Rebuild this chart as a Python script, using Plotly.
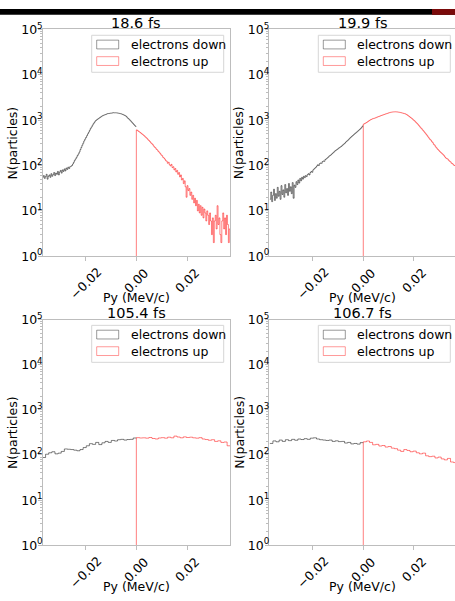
import numpy as np
import plotly.graph_objects as go

W, H = 455, 601

# ---------------- data ----------------
TITLES = ["18.6 fs", "19.9 fs", "105.4 fs", "106.7 fs"]
SERIES_NAMES = ["electrons down", "electrons up"]
X_TITLE = "Py (MeV/c)"
Y_TITLE = "N(particles)"
X_TICKS = [-0.02, 0.0, 0.02]
X_TICK_LABELS = ["\u22120.02", "0.00", "0.02"]
Y_TICKS = [1, 10, 100, 1000, 10000, 100000]
Y_TICK_LABELS = ["10<sup>%d</sup>" % k for k in range(6)]
PY_MIN, PY_MAX = -0.037, 0.037

# counts per bin, negative half (down) and positive half (up); bins split each half evenly
down_186 = [55, 60, 52, 57, 64, 50, 58, 62, 55, 66,
            58, 63, 70, 60, 68, 64, 74, 62, 72, 78,
            68, 80, 74, 84, 76, 88, 82, 92, 86, 94,
            96, 100, 108, 118, 130, 140, 152, 166, 180, 198,
            224, 251, 280, 310, 347, 380, 415, 455, 500, 545,
            600, 660, 710, 775, 835, 895, 960, 1000, 1040, 1075,
            1110, 1150, 1190, 1230, 1260, 1290, 1310, 1335, 1365, 1390,
            1400, 1410, 1425, 1430, 1440, 1460, 1450, 1455, 1450, 1445,
            1430, 1420, 1400, 1385, 1365, 1340, 1310, 1280, 1245, 1210,
            1130, 1090, 1040, 990, 940, 890, 845, 800, 760, 725]
up_186 = [610, 590, 565, 548, 530, 505, 490, 470, 452, 430,
          412, 395, 372, 356, 338, 318, 305, 290, 270, 255,
          245, 228, 220, 205, 196, 184, 172, 165, 152, 146,
          138, 128, 124, 112, 118, 104, 98, 106, 90, 94,
          80, 86, 72, 78, 64, 70, 56, 62, 48, 52,
          40, 46, 34, 20, 36, 28, 31, 22, 26, 18,
          22, 15, 19, 13, 17, 10, 14, 9, 13, 8,
          12, 7, 11, 9, 6, 10, 8, 5, 9, 6,
          3, 7, 2, 6, 8, 4, 13, 5, 7, 3,
          2, 6, 9, 4, 7, 3, 8, 5, 2, 4]

down_199 = [18, 26, 16, 22, 30, 17, 24, 19, 33, 21,
            27, 18, 36, 23, 29, 20, 38, 25, 31, 22,
            40, 27, 34, 24, 42, 19, 37, 33, 44, 38,
            48, 41, 52, 46, 55, 50, 58, 54, 60, 57,
            63, 66, 62, 70, 74, 71, 80, 84, 88, 92,
            98, 104, 100, 110, 114, 112, 122, 126, 124, 136,
            140, 146, 152, 160, 166, 172, 180, 188, 196, 206,
            214, 222, 228, 240, 246, 256, 262, 276, 288, 300,
            312, 330, 344, 358, 376, 396, 414, 434, 452, 470,
            492, 512, 532, 556, 580, 605, 630, 660, 700, 745]
up_199 = [815, 840, 860, 885, 915, 945, 980, 1010, 1035, 1060,
          1080, 1095, 1110, 1130, 1155, 1180, 1200, 1220, 1245, 1270,
          1290, 1310, 1335, 1360, 1380, 1400, 1425, 1450, 1470, 1490,
          1505, 1515, 1520, 1525, 1528, 1522, 1518, 1505, 1495, 1480,
          1460, 1440, 1430, 1405, 1390, 1360, 1330, 1280, 1240, 1195,
          1150, 1110, 1070, 1020, 980, 940, 890, 850, 810, 765,
          720, 680, 650, 610, 580, 545, 515, 485, 455, 425,
          400, 375, 360, 335, 318, 292, 280, 258, 245, 230,
          220, 208, 198, 190, 182, 174, 165, 154, 146, 142,
          138, 130, 124, 120, 112, 110, 104, 100, 102, 97]

down_1054 = [88, 104, 112, 118, 106, 110, 120, 136, 134, 132, 128, 124, 132, 146, 160, 178, 172,
             190, 170, 186, 200, 190, 210, 204, 218, 222, 214, 220, 222, 238]
up_1054 = [242, 238, 240, 236, 244, 232, 226, 238, 242, 236, 248, 240, 262, 250, 240, 252, 244,
           248, 240, 236, 242, 226, 220, 212, 218, 200, 206, 190, 194, 160]

down_1067 = [180, 205, 196, 214, 200, 218, 208, 222, 212, 226, 220, 230, 222, 236, 240, 226, 218,
             214, 210, 214, 200, 206, 198, 200, 184, 190, 176, 180, 174, 188]
up_1067 = [196, 204, 190, 168, 172, 158, 162, 150, 154, 142, 138, 128, 120, 132, 126, 118, 122,
           112, 106, 110, 96, 92, 94, 86, 90, 82, 78, 84, 70, 68]

PANEL_DATA = [(down_186, up_186), (down_199, up_199), (down_1054, up_1054), (down_1067, up_1067)]

# ---------------- layout geometry (pixels) ----------------
# left, right, top, bottom of each axes box, and its x range
BOXES = [
    (42.7, 230.0, 21.0, 254.0, [-0.0369, 0.0369]),
    (269.3, 455.0, 21.0, 254.0, [-0.0372, 0.0363]),
    (42.7, 230.0, 319.0, 551.0, [-0.0369, 0.0369]),
    (269.3, 455.0, 319.0, 551.0, [-0.0372, 0.0363]),
]
PANEL_W = 187.0

FONT = "DejaVu Sans"
SPINE = "#bdbdbd"
DOWN_COLOR = "rgba(0,0,0,0.5)"
UP_COLOR = "rgba(255,0,0,0.5)"
DOWN_PATCH = "rgba(0,0,0,0.4)"
UP_PATCH = "rgba(255,0,0,0.4)"


def px(x):
    return x / W


def py(y):
    return 1 - y / H


def step_xy(edges, counts, drop_left=False, floor=0.1):
    """Outline of a step histogram; optionally rising from below the axis on the left."""
    xs = list(edges[:-1]) + [edges[-1]]
    ys = list(counts) + [counts[-1]]
    if drop_left:
        xs = [edges[0]] + xs
        ys = [floor] + ys
    return xs, ys


fig = go.Figure()
shapes = []
annotations = []
layout_axes = {}

for i, ((down, up), (l, r, t, b, xr)) in enumerate(zip(PANEL_DATA, BOXES)):
    n = i + 1
    xa = "xaxis" if n == 1 else "xaxis%d" % n
    ya = "yaxis" if n == 1 else "yaxis%d" % n
    xref = "x" if n == 1 else "x%d" % n
    yref = "y" if n == 1 else "y%d" % n
    right_col = i % 2 == 1

    down_edges = np.linspace(PY_MIN, 0.0, len(down) + 1)
    up_edges = np.linspace(0.0, PY_MAX, len(up) + 1)

    dx, dy = step_xy(down_edges, down)
    ux, uy = step_xy(up_edges, up, drop_left=True)
    fig.add_trace(go.Scatter(x=dx, y=dy, mode="lines", line=dict(color=DOWN_COLOR, width=1, shape="hv"),
                             name=SERIES_NAMES[0], showlegend=False, xaxis=xref, yaxis=yref,
                             hoverinfo="skip"))
    fig.add_trace(go.Scatter(x=ux, y=uy, mode="lines", line=dict(color=UP_COLOR, width=1, shape="hv"),
                             name=SERIES_NAMES[1], showlegend=False, xaxis=xref, yaxis=yref,
                             hoverinfo="skip"))

    layout_axes[xa] = dict(
        domain=[px(l), min(1.0, px(r))], range=xr, anchor=yref,
        showline=True, linecolor=SPINE, linewidth=1, mirror=True,
        ticks="outside", ticklen=3.5, tickcolor=SPINE, tickvals=X_TICKS,
        showticklabels=False, showgrid=False, zeroline=False,
    )
    layout_axes[ya] = dict(
        domain=[py(b), py(t)], type="log", range=[0, 5], anchor=xref,
        showline=True, linecolor=SPINE, linewidth=1, mirror=not right_col,
        ticks="outside", ticklen=3.5, tickcolor=SPINE,
        tickvals=Y_TICKS, ticktext=Y_TICK_LABELS, ticklabelstandoff=-7,
        tickfont=dict(family=FONT, size=12.5, color="black"),
        minor=dict(ticks="outside", ticklen=2, tickcolor=SPINE, dtick="D1", showgrid=False),
        showgrid=False, zeroline=False,
    )

    # rotated x tick labels
    for v, lab in zip(X_TICKS, X_TICK_LABELS):
        annotations.append(dict(x=v, xref=xref, y=py(b), yref="paper", text=lab, showarrow=False,
                                textangle=-45, xanchor="center", yanchor="top", yshift=-6,
                                font=dict(family=FONT, size=12.5, color="black")))
    # titles and axis labels
    cx = l + PANEL_W / 2
    annotations.append(dict(x=px(cx), y=py(t + 4), xref="paper", yref="paper", text=TITLES[i],
                            showarrow=False, xanchor="center", yanchor="bottom",
                            font=dict(family=FONT, size=14.5, color="black")))
    annotations.append(dict(x=px(cx), y=py(b + 42), xref="paper", yref="paper", text=X_TITLE,
                            showarrow=False, xanchor="center", yanchor="middle",
                            font=dict(family=FONT, size=12.5, color="black")))
    annotations.append(dict(x=px(l - 30), y=py((t + b) / 2), xref="paper", yref="paper", text=Y_TITLE,
                            showarrow=False, textangle=-90, xanchor="center", yanchor="middle",
                            font=dict(family=FONT, size=12.5, color="black")))

    # legend box
    shapes.append(dict(type="rect", xref="paper", yref="paper", x0=px(l + 49), x1=px(l + 181),
                       y0=py(t + 44), y1=py(t + 6), fillcolor="rgba(255,255,255,0.8)",
                       line=dict(color="#d6d6d6", width=1), layer="above"))
    for j, (name, col) in enumerate(zip(SERIES_NAMES, [DOWN_PATCH, UP_PATCH])):
        ry = t + 15.5 + 17 * j
        shapes.append(dict(type="rect", xref="paper", yref="paper", x0=px(l + 54), x1=px(l + 76),
                           y0=py(ry + 4.5), y1=py(ry - 4.5), fillcolor="rgba(0,0,0,0)",
                           line=dict(color=col, width=1), layer="above"))
        annotations.append(dict(x=px(l + 86), y=py(ry), xref="paper", yref="paper", text=name,
                                showarrow=False, xanchor="left", yanchor="middle",
                                font=dict(family=FONT, size=12.5, color="black")))

# window strip across the very top
shapes.append(dict(type="rect", xref="paper", yref="paper", x0=0, x1=1, y0=py(6), y1=1,
                   fillcolor="black", line=dict(width=0), layer="above"))
shapes.append(dict(type="rect", xref="paper", yref="paper", x0=px(432), x1=1, y0=py(6), y1=1,
                   fillcolor="#7a0a0a", line=dict(width=0), layer="above"))

fig.update_layout(
    width=W, height=H, margin=dict(l=0, r=0, t=0, b=0),
    paper_bgcolor="white", plot_bgcolor="white", showlegend=False,
    shapes=shapes, annotations=annotations, **layout_axes,
)

fig.write_html("out.html")
